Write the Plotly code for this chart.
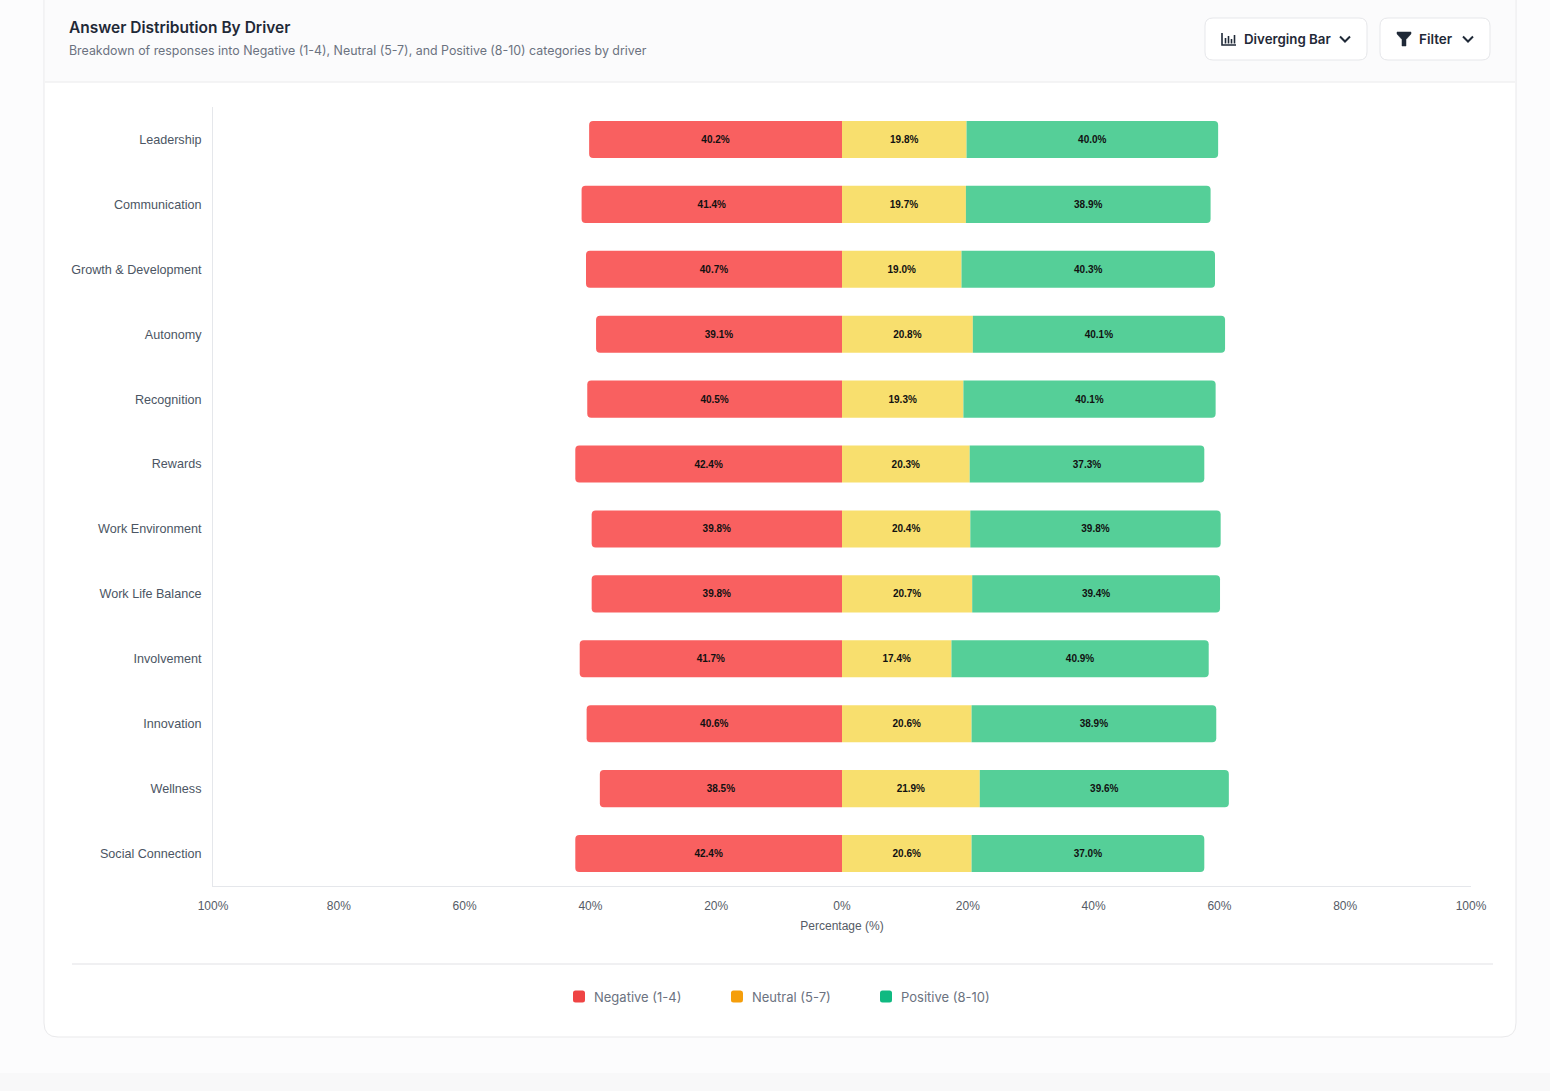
import plotly.graph_objects as go

# ---------------- data ----------------
drivers = ["Leadership", "Communication", "Growth & Development", "Autonomy",
           "Recognition", "Rewards", "Work Environment", "Work Life Balance",
           "Involvement", "Innovation", "Wellness", "Social Connection"]
negative = [40.2, 41.4, 40.7, 39.1, 40.5, 42.4, 39.8, 39.8, 41.7, 40.6, 38.5, 42.4]
neutral = [19.8, 19.7, 19.0, 20.8, 19.3, 20.3, 20.4, 20.7, 17.4, 20.6, 21.9, 20.6]
positive = [40.0, 38.9, 40.3, 40.1, 40.1, 37.3, 39.8, 39.4, 40.9, 38.9, 39.6, 37.0]
tick_vals = [-100, -80, -60, -40, -20, 0, 20, 40, 60, 80, 100]
tick_text = ["100%", "80%", "60%", "40%", "20%", "0%", "20%", "40%", "60%", "80%", "100%"]
series_names = ["Negative (1-4)", "Neutral (5-7)", "Positive (8-10)"]

# ---------------- layout geometry ----------------
W, H = 1550, 1091
L, R, T, B = 213, 79, 107, 205
PW, PH = W - L - R, H - T - B


def px(x):
    return (x - L) / PW


def py(y):
    return 1 - (y - T) / PH


def path(points, close=False):
    s = ""
    for cmd, pts in points:
        s += cmd + " " + " ".join(f"{px(a):.5f},{py(b):.5f}" for a, b in pts) + " "
    if close:
        s += "Z"
    return s


def rrect(x0, y0, x1, y1, r):
    pts = [
        ("M", [(x0 + r, y0)]),
        ("L", [(x1 - r, y0)]),
        ("Q", [(x1, y0), (x1, y0 + r)]),
        ("L", [(x1, y1 - r)]),
        ("Q", [(x1, y1), (x1 - r, y1)]),
        ("L", [(x0 + r, y1)]),
        ("Q", [(x0, y1), (x0, y1 - r)]),
        ("L", [(x0, y0 + r)]),
        ("Q", [(x0, y0), (x0 + r, y0)]),
    ]
    return path(pts, close=True)


bar_colors = ["#F96060", "#F8DF6E", "#55CF98"]
legend_colors = ["#EF4444", "#F59E0B", "#10B981"]

fig = go.Figure()

neg_x = [-v for v in negative]
for name, xs, vals, col in [
    (series_names[0], neg_x, negative, bar_colors[0]),
    (series_names[1], neutral, neutral, bar_colors[1]),
    (series_names[2], positive, positive, bar_colors[2]),
]:
    fig.add_trace(go.Bar(
        y=drivers, x=xs, orientation="h", name=name,
        marker=dict(color=col, line=dict(width=0)),
        text=[f"<b>{v:.1f}%</b>" for v in vals],
        textposition="inside", insidetextanchor="middle", textangle=0,
        textfont=dict(size=10, color="#111111", family="Liberation Sans"),
        showlegend=False, hoverinfo="skip",
    ))

shapes = []
# card
shapes.append(dict(type="path", xref="paper", yref="paper", layer="below",
                   path=rrect(44, -20, 1516, 1037, 14),
                   fillcolor="#FFFFFF", line=dict(color="#E9E9EB", width=1)))
# header band
shapes.append(dict(type="rect", xref="paper", yref="paper", layer="below",
                   x0=px(45), x1=px(1515), y0=py(-20), y1=py(82),
                   fillcolor="#FBFBFC", line=dict(width=0)))
shapes.append(dict(type="line", xref="paper", yref="paper", layer="below",
                   x0=px(45), x1=px(1515), y0=py(82), y1=py(82),
                   line=dict(color="#F0F0F2", width=1.5)))
# divider above legend
shapes.append(dict(type="line", xref="paper", yref="paper", layer="below",
                   x0=px(72), x1=px(1493), y0=py(964), y1=py(964),
                   line=dict(color="#F0F0F2", width=2)))
# bottom page shadow strip
shapes.append(dict(type="rect", xref="paper", yref="paper", layer="below",
                   x0=px(0), x1=px(1550), y0=py(1073), y1=py(1091),
                   fillcolor="#F8F8F9", line=dict(width=0)))
# buttons
for (x0, x1) in [(1205, 1367), (1380, 1490)]:
    shapes.append(dict(type="path", xref="paper", yref="paper", layer="above",
                       path=rrect(x0, 18, x1, 60, 8),
                       fillcolor="#FFFFFF", line=dict(color="#E6E7EA", width=1)))
# chevrons
for cx in [1345, 1468]:
    shapes.append(dict(type="path", xref="paper", yref="paper", layer="above",
                       path=path([("M", [(cx - 5, 36.5)]), ("L", [(cx, 41.5)]), ("L", [(cx + 5, 36.5)])]),
                       line=dict(color="#1F2937", width=2)))
# bar-chart icon
icon = [("M", [(1222, 33)]), ("L", [(1222, 45)]), ("L", [(1236, 45)])]
shapes.append(dict(type="path", xref="paper", yref="paper", layer="above",
                   path=path(icon), line=dict(color="#1F2937", width=1.6)))
for bx, top in [(1225.5, 38), (1228.5, 36), (1231.5, 39), (1234.5, 35)]:
    shapes.append(dict(type="line", xref="paper", yref="paper", layer="above",
                       x0=px(bx), x1=px(bx), y0=py(top), y1=py(43.5),
                       line=dict(color="#1F2937", width=1.6)))
# filter funnel icon
funnel = [("M", [(1397, 32)]), ("L", [(1411, 32)]), ("L", [(1411, 34)]),
          ("L", [(1406, 39.5)]), ("L", [(1406, 46)]), ("L", [(1402, 46)]),
          ("L", [(1402, 39.5)]), ("L", [(1397, 34)])]
shapes.append(dict(type="path", xref="paper", yref="paper", layer="above",
                   path=path(funnel, close=True), fillcolor="#1F2937",
                   line=dict(color="#1F2937", width=0.5)))

annotations = [
    dict(text="Answer Distribution By Driver", xref="paper", yref="paper",
         x=px(67), y=py(27), xanchor="left", yanchor="middle", showarrow=False,
         font=dict(family="Inter", size=15.5, color="#1F2937", weight=600)),
    dict(text="Breakdown of responses into Negative (1-4), Neutral (5-7), and Positive (8-10) categories by driver",
         xref="paper", yref="paper", x=px(67), y=py(51), xanchor="left", yanchor="middle",
         showarrow=False, font=dict(family="Inter", size=12.4, color="#6B7280")),
    dict(text="Diverging Bar", xref="paper", yref="paper", x=px(1242), y=py(39),
         xanchor="left", yanchor="middle", showarrow=False,
         font=dict(family="Inter", size=13.3, color="#1F2937", weight=600)),
    dict(text="Filter", xref="paper", yref="paper", x=px(1417), y=py(39),
         xanchor="left", yanchor="middle", showarrow=False,
         font=dict(family="Inter", size=13.5, color="#1F2937", weight=600)),
]

# legend (drawn as keyed entries under the chart)
legend_sq_x = [573, 731, 880]
for name, col, sx in zip(series_names, legend_colors, legend_sq_x):
    shapes.append(dict(type="path", xref="paper", yref="paper", layer="above",
                       path=rrect(sx, 990.5, sx + 12, 1002.5, 2.5),
                       fillcolor=col, line=dict(width=0)))
    annotations.append(dict(text=name, xref="paper", yref="paper", x=px(sx + 19), y=py(997),
                            xanchor="left", yanchor="middle", showarrow=False,
                            font=dict(family="Inter", size=13, color="#6B7280")))

fig.update_layout(
    width=W, height=H,
    margin=dict(l=L, r=R, t=T, b=B, pad=0),
    paper_bgcolor="#FCFCFD", plot_bgcolor="rgba(0,0,0,0)",
    barmode="relative", bargap=0.43, barcornerradius=4,
    font=dict(family="Liberation Sans", color="#4B5563"),
    shapes=shapes, annotations=annotations, showlegend=False,
    xaxis=dict(range=[-100, 100], tickvals=tick_vals, ticktext=tick_text,
               showgrid=False, zeroline=False, showline=True, linecolor="#E5E7EB",
               linewidth=1, ticks="", ticklabelstandoff=9,
               tickfont=dict(size=12, color="#555B66"),
               title=dict(text="Percentage (%)", font=dict(size=12, color="#555B66"), standoff=9)),
    yaxis=dict(categoryorder="array", categoryarray=drivers, autorange="reversed",
               showgrid=False, zeroline=False, showline=True, linecolor="#E5E7EB",
               linewidth=1, ticks="", ticklabelstandoff=8,
               tickfont=dict(size=12.6, color="#4B5563")),
)

fig.write_html("out.html", config={"displayModeBar": False},
               post_script="document.body.style.margin='0';document.body.style.overflow='hidden';")
